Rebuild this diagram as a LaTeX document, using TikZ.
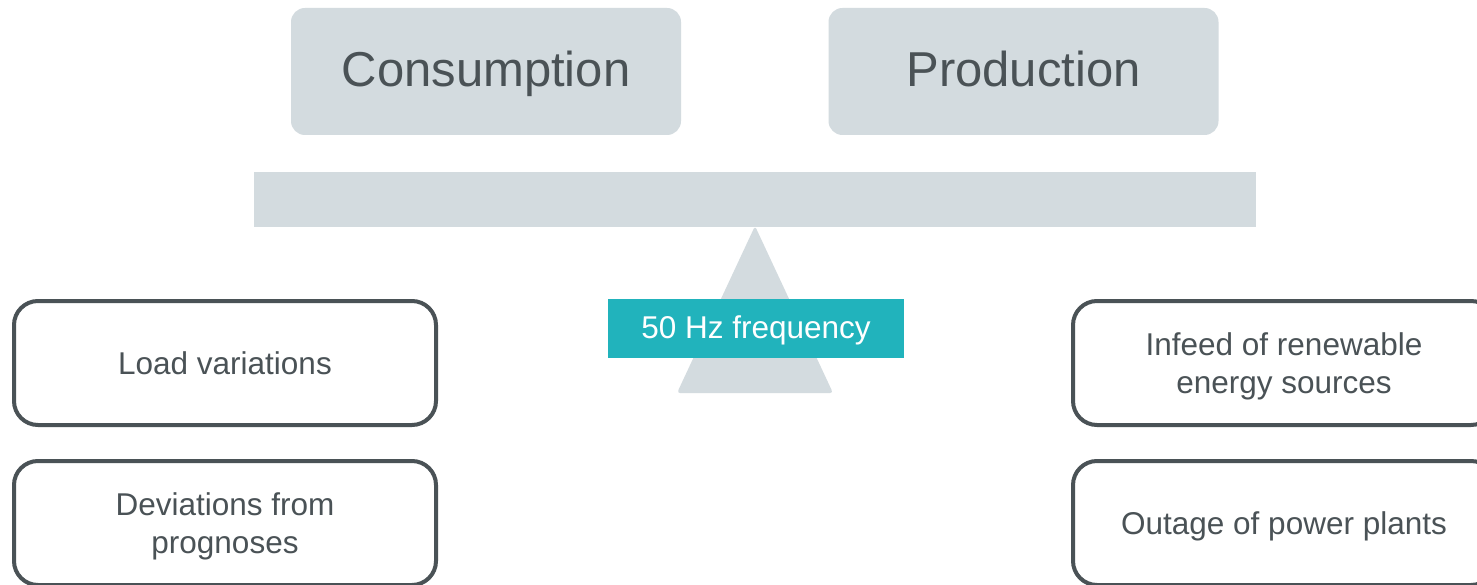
\documentclass[tikz,border=0pt]{standalone}
\usepackage{fontspec}
\setmainfont{Liberation Sans}
\definecolor{panel}{HTML}{D3DBDF}
\definecolor{ink}{HTML}{4A5256}
\definecolor{teal}{HTML}{21B3BC}
\begin{document}
\begin{tikzpicture}[x=1pt,y=-1pt,
  topbox/.style={fill=panel,draw=none,rounded corners=14pt,minimum width=390pt,minimum height=127pt,inner sep=0pt,text=ink,font=\fontsize{49}{59}\selectfont,text height=35.8pt,text depth=5pt},
  causebox/.style={draw=ink,line width=4pt,fill=white,rounded corners=24pt,minimum width=422pt,minimum height=124pt,inner sep=0pt,align=center,text=ink,font=\fontsize{31.5}{37.5}\selectfont,text depth=0pt},
  freqbox/.style={fill=teal,draw=none,minimum width=296pt,minimum height=59pt,inner sep=0pt,text=white,font=\fontsize{31.5}{38}\selectfont,text height=22.6pt,text depth=2pt}]
\clip (0,0) rectangle (1477,585);
\fill[white] (0,0) rectangle (1477,585);
% balance
\coordinate (apex) at (755,226);
\coordinate (bl) at (677,393);
\coordinate (br) at (833,393);
\fill[panel,rounded corners=3pt] (apex) -- (br) -- (bl) -- cycle;
\node[fill=panel,minimum width=1002pt,minimum height=55pt,inner sep=0pt] (beam) at (755,199.5) {};
\node[topbox] (cons) at (486,71.5) {Consumption};
\node[topbox] (prod) at (1023.5,71.5) {Production};
\node[freqbox] (freq) at (756,328.5) {50 Hz frequency};
\node[causebox] (load) at (225,363) {Load variations};
\node[causebox] (dev) at (225,523) {Deviations from\\prognoses};
\node[causebox] (infeed) at (1284,363) {Infeed of renewable\\energy sources};
\node[causebox] (outage) at (1284,523) {Outage of power plants};
\end{tikzpicture}
\end{document}
